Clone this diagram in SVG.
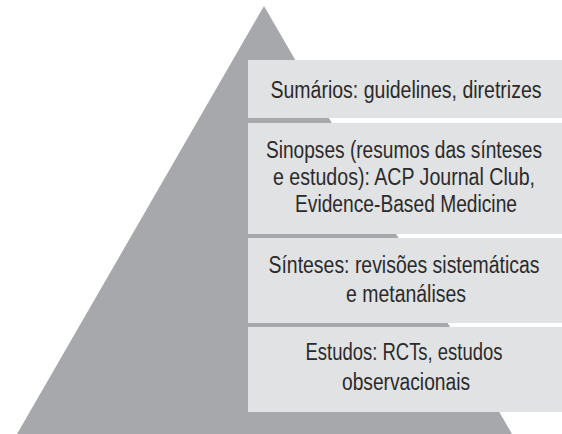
<svg xmlns="http://www.w3.org/2000/svg" width="562" height="434" viewBox="0 0 562 434">
<style>
.box{fill:#e1e2e3}
.t{font-family:"Liberation Sans",Arial,sans-serif;font-size:20px;fill:#2b2a2b;text-anchor:middle}
</style>
<rect width="562" height="434" fill="#ffffff"/>
<polygon id="pyramid" points="264,6 512,434 17,434" fill="#a7a8ab"/>
<g id="n1"><rect class="box" x="248" y="60" width="314" height="58"/>
<text class="t" transform="translate(406,98) scale(1,1.15)" textLength="271" lengthAdjust="spacingAndGlyphs">Sumários: guidelines, diretrizes</text></g>
<g id="n2"><rect class="box" x="248" y="123" width="314" height="111"/>
<text class="t" transform="translate(404,158) scale(1,1.15)" textLength="276" lengthAdjust="spacingAndGlyphs">Sinopses (resumos das sínteses</text>
<text class="t" transform="translate(404,185) scale(1,1.15)" textLength="262" lengthAdjust="spacingAndGlyphs">e estudos): ACP Journal Club,</text>
<text class="t" transform="translate(406,212) scale(1,1.15)" textLength="222" lengthAdjust="spacingAndGlyphs">Evidence-Based Medicine</text></g>
<g id="n3"><rect class="box" x="248" y="238" width="314" height="85"/>
<text class="t" transform="translate(404,273) scale(1,1.15)" textLength="271" lengthAdjust="spacingAndGlyphs">Sínteses: revisões sistemáticas</text>
<text class="t" transform="translate(406,302) scale(1,1.15)" textLength="120" lengthAdjust="spacingAndGlyphs">e metanálises</text></g>
<g id="n4"><rect class="box" x="248" y="327" width="314" height="85"/>
<text class="t" transform="translate(404,360) scale(1,1.15)" textLength="197" lengthAdjust="spacingAndGlyphs">Estudos: RCTs, estudos</text>
<text class="t" transform="translate(406,390) scale(1,1.15)" textLength="128" lengthAdjust="spacingAndGlyphs">observacionais</text></g>
<g id="connectors"></g>
</svg>
